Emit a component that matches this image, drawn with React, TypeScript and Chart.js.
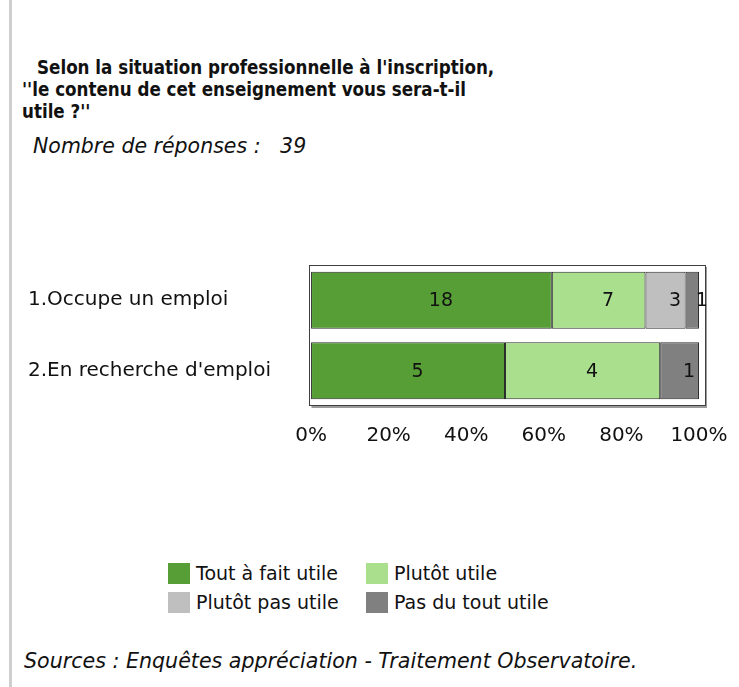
import React, { useEffect, useRef } from "react";
import { Chart, registerables } from "chart.js";

Chart.register(...registerables);

const categories = ["1.Occupe un emploi", "2.En recherche d'emploi"];
const seriesNames = ["Tout à fait utile", "Plutôt utile", "Plutôt pas utile", "Pas du tout utile"];
const toutAFaitUtile = [18, 5];
const plutotUtile = [7, 4];
const plutotPasUtile = [3, 0];
const pasDuToutUtile = [1, 1];
const seriesColors = ["#579e37", "#a9df8d", "#bfbfbf", "#808080"];
const tickValues = [0, 20, 40, 60, 80, 100];
const nbReponses = 39;
const titleLines = ["Selon la situation professionnelle à l'inscription,", "''le contenu de cet enseignement vous sera-t-il", "utile ?''"];

const seriesValues = [toutAFaitUtile, plutotUtile, plutotPasUtile, pasDuToutUtile];
const totals = categories.map((_, i) => seriesValues.reduce((s, arr) => s + arr[i], 0));

const FONT = "'DejaVu Sans', Verdana, sans-serif";
const FONT_COND = "'DejaVu Sans Condensed', 'DejaVu Sans', sans-serif";

const boxPlugin = {
  id: "boxPlugin",
  beforeDatasetsDraw(chart: any) {
    const { ctx, chartArea } = chart;
    const { left, top, right, bottom } = chartArea;
    ctx.save();
    ctx.fillStyle = "#ffffff";
    ctx.fillRect(left, top, right - left, bottom - top);
    ctx.fillStyle = "#9a9a9a";
    ctx.fillRect(left + 2, bottom, right - left, 2);
    ctx.fillRect(right, top + 2, 2, bottom - top);
    ctx.strokeStyle = "#404040";
    ctx.lineWidth = 1;
    ctx.strokeRect(Math.round(left) - 0.5, Math.round(top) + 0.5, Math.round(right - left), Math.round(bottom - top) - 1);
    ctx.restore();
  },
};

const labelPlugin = {
  id: "labelPlugin",
  afterDatasetsDraw(chart: any) {
    const { ctx } = chart;
    ctx.save();
    ctx.font = `19px ${FONT}`;
    ctx.fillStyle = "#111111";
    ctx.textAlign = "center";
    ctx.textBaseline = "middle";
    chart.data.datasets.forEach((ds: any, di: number) => {
      const meta = chart.getDatasetMeta(di);
      meta.data.forEach((bar: any, i: number) => {
        const count = ds.counts[i];
        if (!count) return;
        const cx = (bar.x + bar.base) / 2 + 9.5;
        ctx.fillText(String(count), cx, bar.y + 1);
      });
    });
    ctx.restore();
  },
};

export default function App() {
  const canvasRef = useRef<HTMLCanvasElement | null>(null);

  useEffect(() => {
    if (!canvasRef.current) return;
    Chart.defaults.font.family = FONT;
    const chart = new Chart(canvasRef.current, {
      type: "bar",
      data: {
        labels: categories,
        datasets: seriesNames.map((name, si) => ({
          label: name,
          data: seriesValues[si].map((v, i) => (v / totals[i]) * 100),
          counts: seriesValues[si],
          backgroundColor: seriesColors[si],
          borderColor: "#2b2b2b",
          borderWidth: 1,
          borderSkipped: false,
          barPercentage: 0.81,
          categoryPercentage: 1,
        })) as any,
      },
      options: {
        indexAxis: "y",
        responsive: false,
        animation: false,
        layout: { padding: { left: 28, right: 34, top: 15, bottom: 0 } },
        plugins: {
          legend: { display: false },
          tooltip: { enabled: false },
        },
        scales: {
          x: {
            stacked: true,
            min: -0.4,
            max: 101.55,
            afterBuildTicks: (scale: any) => {
              scale.ticks = tickValues.map((v) => ({ value: v }));
            },
            afterFit: (scale: any) => {
              scale.height = 44;
              scale.paddingLeft = 0;
              scale.paddingRight = 0;
            },
            grid: { display: false, drawTicks: false },
            border: { display: false },
            ticks: {
              padding: 18,
              color: "#111111",
              font: { size: 20, family: FONT },
              callback: (v: any) => `${v}%`,
            },
          },
          y: {
            stacked: true,
            afterFit: (scale: any) => {
              scale.width = 281.5;
            },
            grid: { display: false, drawTicks: false },
            border: { display: false },
            ticks: {
              crossAlign: "far",
              color: "#111111",
              font: { size: 20, family: FONT },
            },
          },
        },
      },
      plugins: [boxPlugin, labelPlugin],
    });
    return () => chart.destroy();
  }, []);

  const textBase: React.CSSProperties = {
    position: "absolute",
    fontFamily: FONT,
    color: "#111111",
    whiteSpace: "pre",
  };

  const titleStyle: React.CSSProperties = {
    ...textBase,
    fontFamily: FONT_COND,
    fontStretch: "condensed",
    fontSize: 18.6,
    fontWeight: "bold",
    lineHeight: "22px",
  };

  return (
    <div
      style={{
        position: "fixed",
        left: 0,
        top: 0,
        width: 739,
        height: 687,
        background: "#ffffff",
        overflow: "hidden",
      }}
    >
      <div style={{ position: "absolute", left: 9, top: 0, width: 3, height: 687, background: "#cfcfcf" }} />
      {titleLines.map((line, i) => (
        <div key={i} style={{ ...titleStyle, left: i === 0 ? 37 : 22, top: 57 + i * 22 }}>
          {line}
        </div>
      ))}
      <div style={{ ...textBase, left: 33, top: 134, fontSize: 20.5, fontStyle: "italic", lineHeight: "24px" }}>
        {`Nombre de réponses :   ${nbReponses}`}
      </div>
      <canvas
        ref={canvasRef}
        width={739}
        height={200}
        style={{ position: "absolute", left: 0, top: 250, width: 739, height: 200 }}
      />
      {seriesNames.map((name, si) => {
        const col = si % 2;
        const row = Math.floor(si / 2);
        return (
          <div
            key={name}
            style={{ position: "absolute", left: col === 0 ? 168 : 366, top: 563 + row * 29, height: 21 }}
          >
            <div
              style={{
                position: "absolute",
                left: 0,
                top: 0,
                width: 22,
                height: 21,
                background: seriesColors[si],
              }}
            />
            <div style={{ ...textBase, left: 28, top: -1, fontSize: 19, lineHeight: "22px" }}>{name}</div>
          </div>
        );
      })}
      <div style={{ ...textBase, left: 24, top: 649, fontSize: 20.6, fontStyle: "italic", lineHeight: "24px" }}>
        Sources : Enquêtes appréciation - Traitement Observatoire.
      </div>
    </div>
  );
}
